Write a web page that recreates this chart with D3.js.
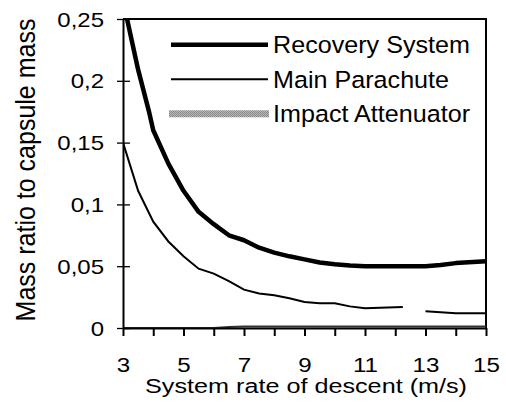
<!DOCTYPE html>
<meta charset="utf-8">
<html>
<head>
    <title>mass ratio</title>
    <script src="https://cdn.jsdelivr.net/npm/d3@7"></script>
    <style>
        body { margin: 0; background: white; }
        text { font-family: "Liberation Sans", Arial, sans-serif; fill: black; }
    </style>
</head>
<body>
    <div id="chart"></div>
    <script>
        // values
        var seriesNames = ["Recovery System", "Main Parachute", "Impact Attenuator"];
        var recoveryX = [3, 3.5, 3.87, 4, 4.5, 5, 5.5, 6, 6.5, 7, 7.5, 8, 8.5, 9, 9.5, 10, 10.5, 11, 12, 13, 13.5, 14, 15];
        var recoveryY = [0.265, 0.209, 0.174, 0.160, 0.133, 0.111, 0.094, 0.084, 0.075, 0.071, 0.065, 0.061, 0.058, 0.0555, 0.053, 0.0515, 0.0505, 0.050, 0.050, 0.050, 0.051, 0.0525, 0.054];
        var parachuteX = [3, 3.5, 4, 4.5, 5, 5.5, 6, 6.5, 7, 7.5, 8, 8.5, 9, 9.5, 10, 10.5, 11, 12.25, 12.6, 13, 14, 15];
        var parachuteY = [0.150, 0.111, 0.086, 0.070, 0.058, 0.048, 0.044, 0.038, 0.031, 0.028, 0.0265, 0.024, 0.021, 0.020, 0.020, 0.0175, 0.016, 0.017, null, 0.0135, 0.012, 0.012];
        var attenuatorX = [3, 4, 5, 6, 6.5, 7, 8, 9, 10, 11, 12, 13, 14, 15];
        var attenuatorY = [0, 0, 0, 0, 0.0008, 0.0012, 0.0013, 0.0013, 0.0013, 0.0013, 0.0013, 0.0013, 0.0013, 0.0013];

        var xTicks = [3, 4, 5, 6, 7, 8, 9, 10, 11, 12, 13, 14, 15];
        var xLabels = [3, 5, 7, 9, 11, 13, 15];
        var yTicks = [0, 0.05, 0.1, 0.15, 0.2, 0.25];
        var yLabels = ["0", "0,05", "0,1", "0,15", "0,2", "0,25"];

        var W = 506, H = 402;
        var plotL = 123, plotR = 486, plotT = 19, plotB = 328;

        var svg = d3.select("#chart").append("svg")
            .attr("width", W)
            .attr("height", H);

        var x = d3.scaleLinear().domain([3, 15]).range([plotL, plotR]);
        var y = d3.scaleLinear().domain([0, 0.25]).range([plotB, plotT]);

        // hatched grey for the attenuator swatch
        var defs = svg.append("defs");
        var pat = defs.append("pattern")
            .attr("id", "hatch")
            .attr("width", 2).attr("height", 2)
            .attr("patternUnits", "userSpaceOnUse");
        pat.append("rect").attr("width", 2).attr("height", 2).attr("fill", "#c8c8c8");
        pat.append("rect").attr("width", 1).attr("height", 1).attr("fill", "#7a7a7a");
        pat.append("rect").attr("x", 1).attr("y", 1).attr("width", 1).attr("height", 1).attr("fill", "#7a7a7a");

        defs.append("clipPath").attr("id", "plot")
            .append("rect")
            .attr("x", plotL).attr("y", plotT)
            .attr("width", plotR - plotL).attr("height", plotB - plotT);

        // frame top and right
        svg.append("path")
            .attr("d", "M" + plotL + "," + plotT + "H" + plotR + "V" + plotB)
            .attr("fill", "none")
            .attr("stroke", "black")
            .attr("stroke-width", 2);

        // lines
        var line = d3.line()
            .defined(function(d) { return d[1] !== null; })
            .x(function(d) { return x(d[0]); })
            .y(function(d) { return y(d[1]); });

        function pairs(xs, ys) {
            return xs.map(function(v, i) { return [v, ys[i]]; });
        }

        var plot = svg.append("g").attr("clip-path", "url(#plot)");

        plot.append("path")
            .datum(pairs(attenuatorX, attenuatorY))
            .attr("d", line)
            .attr("fill", "none")
            .attr("stroke", "#333")
            .attr("stroke-width", 2);

        plot.append("path")
            .datum(pairs(parachuteX, parachuteY))
            .attr("d", line)
            .attr("fill", "none")
            .attr("stroke", "black")
            .attr("stroke-width", 2);

        plot.append("path")
            .datum(pairs(recoveryX, recoveryY))
            .attr("d", line)
            .attr("fill", "none")
            .attr("stroke", "black")
            .attr("stroke-width", 4.5)
            .attr("stroke-linejoin", "round");

        // y axis
        var yAxis = svg.append("g")
            .attr("transform", "translate(" + plotL + ",0)")
            .call(d3.axisLeft(y).tickValues(yTicks).tickSize(6).tickSizeOuter(0)
                .tickFormat(function(d, i) { return yLabels[i]; }));
        yAxis.select(".domain").attr("stroke-width", 2);
        yAxis.selectAll(".tick line").attr("x1", 7).attr("x2", -6).attr("stroke-width", 1.3);
        yAxis.selectAll(".tick text")
            .attr("x", 0).attr("dy", null)
            .attr("transform", "translate(-19,7) scale(1.2,1)")
            .attr("font-size", "20px")
            .attr("font-family", "Liberation Sans, Arial, sans-serif");

        // x axis
        var xAxis = svg.append("g")
            .attr("transform", "translate(0," + plotB + ")")
            .call(d3.axisBottom(x).tickValues(xTicks).tickSize(8).tickSizeOuter(0)
                .tickFormat(function(d) { return xLabels.indexOf(d) >= 0 ? d : ""; }));
        xAxis.select(".domain").attr("stroke-width", 2);
        xAxis.selectAll(".tick line").attr("stroke-width", 2);
        xAxis.selectAll(".tick text")
            .attr("y", 0).attr("dy", null)
            .attr("transform", "translate(0,44) scale(1.15,1)")
            .attr("font-size", "21px")
            .attr("font-family", "Liberation Sans, Arial, sans-serif");
        svg.selectAll(".domain").attr("stroke", "black");
        svg.selectAll(".tick line").attr("stroke", "black");

        // axis titles
        svg.append("text")
            .attr("transform", "translate(306,393) scale(1.2,1)")
            .attr("text-anchor", "middle")
            .attr("font-size", "21px")
            .text("System rate of descent (m/s)");

        svg.append("text")
            .attr("transform", "translate(35,170) scale(1.12,1) rotate(-90)")
            .attr("text-anchor", "middle")
            .attr("font-size", "25px")
            .text("Mass ratio to capsule mass");

        // legend
        var legend = svg.append("g");
        var rows = legend.selectAll("g").data(seriesNames).enter().append("g")
            .attr("transform", function(d, i) { return "translate(0," + (44.8 + i * 34.5) + ")"; });

        rows.each(function(d, i) {
            var g = d3.select(this);
            if (i === 2) {
                g.append("rect")
                    .attr("x", 169).attr("y", -3.5)
                    .attr("width", 100).attr("height", 7)
                    .attr("fill", "url(#hatch)");
            } else {
                g.append("line")
                    .attr("x1", 171).attr("x2", 268)
                    .attr("stroke", "black")
                    .attr("stroke-width", i === 0 ? 4.5 : 2);
            }
            g.append("text")
                .attr("transform", "translate(273,8.5) scale(1.07,1)")
                .attr("font-size", "23.5px")
                .text(d);
        });
    </script>
</body>
</html>
